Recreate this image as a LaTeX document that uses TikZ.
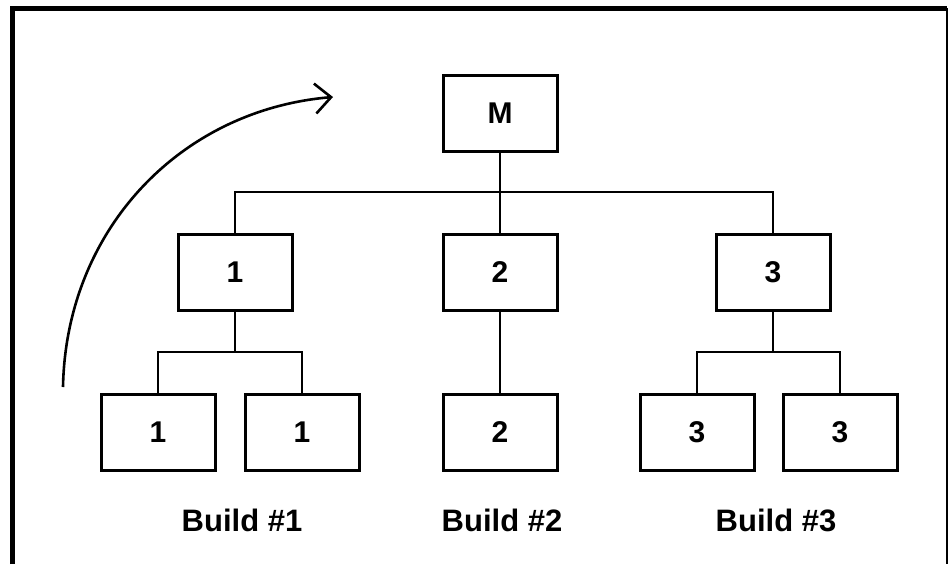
\documentclass[tikz,border=0pt]{standalone}
\usepackage{fontspec}
\setmainfont{Liberation Sans}
\usepackage{tikz}
\usetikzlibrary{arrows.meta,positioning,calc}

\begin{document}
\begin{tikzpicture}[
    x=0.5pt, y=-0.5pt,
    box/.style={rectangle, draw, line width=1.5pt, minimum width=57pt,
                minimum height=38pt, inner sep=0pt, font=\fontsize{15}{15}\bfseries},
    link/.style={line width=1pt},
    caption/.style={font=\fontsize{15.5}{15.5}\bfseries},
    frame/.style={line width=2.5pt}
]
\useasboundingbox (0,0) rectangle (949,564);

% frame
\draw[frame] (12,564) -- (12,8) -- (947,8);
\draw[line width=0.8pt] (947,8) -- (947,564);

% tree
\node[box] (M) at (500,113) {M};
\node[box] (n1) at (235,272) {1};
\node[box] (n2) at (500,272) {2};
\node[box] (n3) at (773,272) {3};

\node[box] (n1a) at (158,432) {1};
\node[box] (n1b) at (302,432) {1};
\node[box] (n2a) at (500,432) {2};
\node[box] (n3a) at (697,432) {3};
\node[box] (n3b) at (840,432) {3};

\draw[link] (M.south) -- (n2.north);
\draw[link] (M.south) -- ++(0,39) -| (n1.north);
\draw[link] (M.south) -- ++(0,39) -| (n3.north);

\draw[link] (n1.south) -- ++(0,40) -| (n1a.north);
\draw[link] (n1.south) -- ++(0,40) -| (n1b.north);
\draw[link] (n2.south) -- (n2a.north);
\draw[link] (n3.south) -- ++(0,40) -| (n3a.north);
\draw[link] (n3.south) -- ++(0,40) -| (n3b.north);

% build labels
\node[caption] (b1) at (242,520) {Build \#1};
\node[caption] (b2) at (502,520) {Build \#2};
\node[caption] (b3) at (776,520) {Build \#3};

% sweep arrow
\coordinate (start) at (63,387);
\coordinate (tip) at (333,97);
\draw[line width=1.3pt, -{Straight Barb[length=8pt,width=15pt,line width=1.3pt]}]
    (start) .. controls (66,230) and (180,110) .. (tip);
\end{tikzpicture}
\end{document}
